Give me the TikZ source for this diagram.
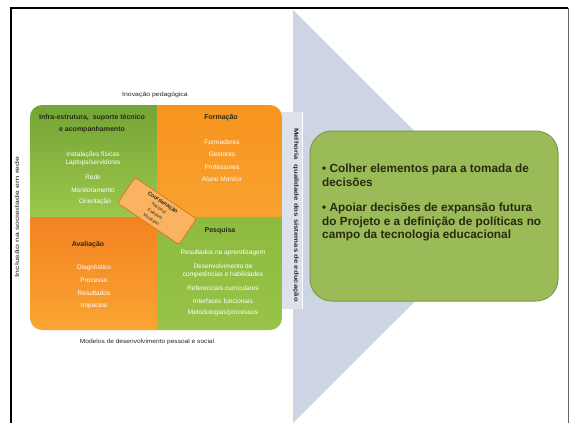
\documentclass[tikz,border=0pt]{standalone}
\usepackage{fontspec}
\setmainfont{Liberation Sans}
\usetikzlibrary{shapes.geometric}
\definecolor{arrowgrey}{HTML}{CDD5E5}
\definecolor{shaftgrey}{HTML}{DCE1EC}
\definecolor{boxgreen}{HTML}{9BBB59}
\definecolor{boxedge}{HTML}{7E9C45}
\definecolor{gdark}{HTML}{74A436}
\definecolor{glight}{HTML}{9BC74C}
\definecolor{gmid}{HTML}{8CBB40}
\definecolor{odark}{HTML}{F48221}
\definecolor{olight}{HTML}{F9A533}
\definecolor{omid}{HTML}{F7941E}
\definecolor{hdrtext}{HTML}{2A2A12}
\definecolor{diamfill}{HTML}{F9B362}
\definecolor{diamedge}{HTML}{D97A22}
\begin{document}
\begin{tikzpicture}[x=1pt,y=-1pt,
  hdr/.style={font=\bfseries\fontsize{7}{12}\selectfont, text=hdrtext, align=center, inner sep=0pt},
  item/.style={font=\fontsize{6.5}{8}\selectfont, text=white, align=center, inner sep=0pt},
  side/.style={font=\fontsize{6}{7}\selectfont, text=black!85, inner sep=0pt},
  diam/.style={draw=diamedge, line width=0.8pt, fill=diamfill, rounded corners=2pt,
    minimum width=74pt, minimum height=31pt, inner sep=1pt, align=center,
    font=\fontsize{4.2}{6.8}\selectfont, text=hdrtext},
  bullets/.style={font=\bfseries\fontsize{11.8}{13.5}\selectfont, text=hdrtext, align=left, inner sep=0pt}
]
\useasboundingbox (0,0) rectangle (571,423);

% page frame
\draw[line width=2pt] (11,440) -- (11,8) -- (568,8);
\draw[line width=0.8pt, black!60] (568,8) -- (568,440);

% big arrow: head and shaft
\fill[arrowgrey] (293,10) -- (500,216.5) -- (293,423) -- cycle;
\fill[shaftgrey] (262,112) rectangle (302,309);
\draw[white, line width=1pt] (302,112) -- (302,309);

% four-quadrant square
\begin{scope}
  \clip[rounded corners=12pt] (30,105) rectangle (282,330);
  \shade[top color=gdark, bottom color=glight] (30,105) rectangle (157,217);
  \shade[top color=omid, bottom color=olight!80!omid] (157,105) rectangle (282,217);
  \shade[top color=odark, bottom color=olight] (30,217) rectangle (157,330);
  \shade[top color=gmid, bottom color=glight!70!gmid] (157,217) rectangle (282,330);
\end{scope}

% quadrant: infrastructure
\node[hdr] (infra) at (92,124) {Infra-estrutura,\ \ suporte técnico\\e acompanhamento};
\node[item] (i1) at (93,155) {Instalações físicas};
\node[item] (i2) at (93,163) {Laptops/servidores};
\node[item] (i3) at (93,177) {Rede};
\node[item] (i4) at (93,190) {Monitoramento};
\node[item] (i5) at (95,202) {Orientação};

% quadrant: training
\node[hdr] (form) at (221,118) {Formação};
\node[item] (f1) at (222,142) {Formadores};
\node[item] (f2) at (222,154) {Gestores};
\node[item] (f3) at (222,167) {Professores};
\node[item] (f4) at (222,179) {Aluno Monitor};

% quadrant: evaluation
\node[hdr] (aval) at (88,245) {Avaliação};
\node[item] (a1) at (94,268) {Diagnóstico};
\node[item] (a2) at (94,280) {Processo};
\node[item] (a3) at (94,293) {Resultados};
\node[item] (a4) at (94,306) {Impactos};

% quadrant: research
\node[hdr] (pesq) at (220,231) {Pesquisa};
\node[item] (p1) at (223,253) {Resultados na aprendizagem};
\node[item] (p2) at (223,271) {Desenvolvimento de\\competências e habilidades};
\node[item] (p3) at (223,288) {Referenciais curriculares};
\node[item] (p4) at (223,301) {Interfaces funcionais};
\node[item] (p5) at (223,313) {Metodologias/processos};

% central coordination tile
\node[diam, rotate=-34] (coord) at (157,211) {\textbf{\fontsize{5.5}{6.8}\selectfont Coordenação}\\Nacional\\Estadual\\Municipal};

% labels around the square
\node[side] (inov) at (155,95) {\scalebox{1.15}[1]{Inovação pedagógica}};
\node[side] (model) at (147,342) {\scalebox{1.1}[1]{Modelos de desenvolvimento pessoal e social}};
\node[side, rotate=90] (incl) at (17,217) {\scalebox{1.45}[1]{Inclusão na sociedade em rede}};
\node[side, font=\bfseries\fontsize{6}{7}\selectfont, rotate=-90] (melh) at (296,215) {\scalebox{1.3}[1]{Melhoria\ \ qualidade dos sistemas de educação}};

% outcome box
\draw[boxedge, line width=1pt, fill=boxgreen, rounded corners=22pt] (310,131) rectangle (558,301);
\node[bullets, anchor=north west] (goals) at (322,164) {%
• Colher elementos para a tomada de\\decisões\\[12pt]%
• Apoiar decisões de expansão futura\\do Projeto e a definição de políticas no\\campo da tecnologia educacional};
\end{tikzpicture}
\end{document}
